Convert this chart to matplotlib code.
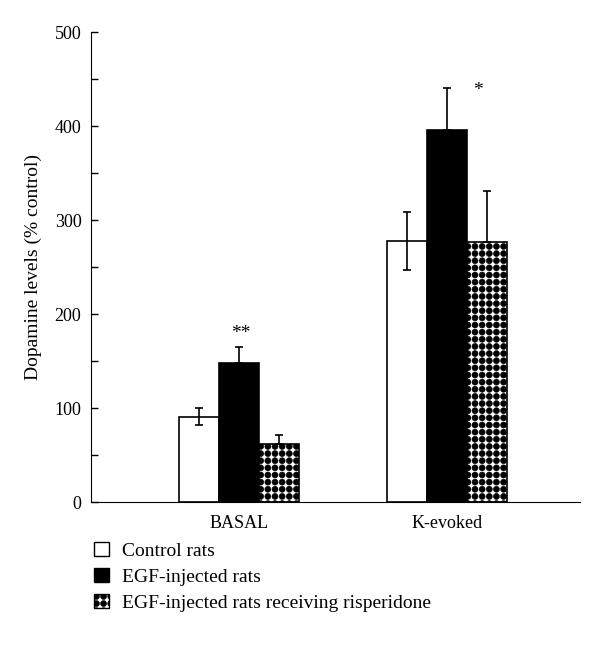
import matplotlib
matplotlib.use("Agg")
import matplotlib.pyplot as plt
import matplotlib.hatch as mhatch
from matplotlib.path import Path
import numpy as np
from matplotlib.patches import Patch

plt.rcParams['font.family'] = ['Liberation Serif', 'DejaVu Serif']
plt.rcParams['hatch.linewidth'] = 0.4


class SquareDots(mhatch.HatchPatternBase):
    """Filled dots on a square grid, used for the '.' hatch."""
    def __init__(self, hatch, density):
        self.n = 14 if '.' in hatch else 0
        self.circ = Path.unit_circle()
        self.num_vertices = self.n * self.n * len(self.circ.vertices)

    def set_vertices_and_codes(self, vertices, codes):
        n = self.n
        sv = self.circ.vertices * (0.42 / n)
        sc = self.circ.codes
        k = len(sv)
        idx = 0
        for i in range(n):
            for j in range(n):
                vertices[idx:idx + k] = sv + [(i + 0.5) / n, (j + 0.5) / n]
                codes[idx:idx + k] = sc
                idx += k


mhatch._hatch_types = [SquareDots if t is mhatch.SmallFilledCircles else t
                       for t in mhatch._hatch_types]

categories = ["BASAL", "K-evoked"]
series_names = ["Control rats", "EGF-injected rats", "EGF-injected rats receiving risperidone"]
control = [91, 278]
control_err = [9, 31]
egf = [148, 396]
egf_err = [17, 45]
risp = [62, 277]
risp_err = [9, 54]
stars = ["**", "*"]

fig = plt.figure(figsize=(6.0, 6.59), dpi=100)
ax = fig.add_axes([0.152, 0.238, 0.815, 0.713])

x = np.arange(len(categories))
w = 0.193
ekw = dict(ecolor='black', capsize=3, elinewidth=1.2, capthick=1.2)
ax.bar(x - w, control, w, color='white', edgecolor='black', linewidth=1.2)
ax.errorbar(x - w, control, yerr=control_err, fmt='none', **ekw)
ax.bar(x, egf, w, color='black', edgecolor='black', linewidth=1.2)
ax.errorbar(x, egf, yerr=[[0, 0], egf_err], fmt='none', **ekw)
ax.bar(x + w, risp, w, color='white', edgecolor='black', hatch='.', linewidth=1.2)
ax.errorbar(x + w, risp, yerr=[[0, 0], risp_err], fmt='none', **ekw)

ax.text(x[0] + 0.01, 179, stars[0], ha='center', va='center', fontsize=14)
ax.text(x[1] + 0.15, 438, stars[1], ha='center', va='center', fontsize=14)

ax.set_xlim(-0.71, 1.64)
ax.set_ylim(0, 500)
ax.set_yticks([0, 100, 200, 300, 400, 500])
ax.set_yticks([50, 150, 250, 350, 450], minor=True)
ax.tick_params(axis='y', direction='in', length=5, labelsize=13, width=1, pad=7)
ax.tick_params(axis='y', which='minor', direction='in', length=5, width=1)
ax.set_xticks(x)
ax.set_xticklabels(categories, fontsize=13)
ax.tick_params(axis='x', length=0, pad=9)
ax.spines['top'].set_visible(False)
ax.spines['right'].set_visible(False)
ax.set_ylabel("Dopamine levels (% control)", fontsize=14)
ax.yaxis.set_label_coords(-0.100, 0.5)

handles = [Patch(facecolor='white', edgecolor='black'),
           Patch(facecolor='black', edgecolor='black'),
           Patch(facecolor='white', edgecolor='black', hatch='.')]
fig.legend(handles, series_names, loc='upper left', bbox_to_anchor=(0.157, 0.178),
           frameon=False, fontsize=14, handlelength=0.75, handleheight=0.75,
           handletextpad=0.7, labelspacing=0.42, borderaxespad=0, borderpad=0)

fig.savefig("out.png", dpi=100)
